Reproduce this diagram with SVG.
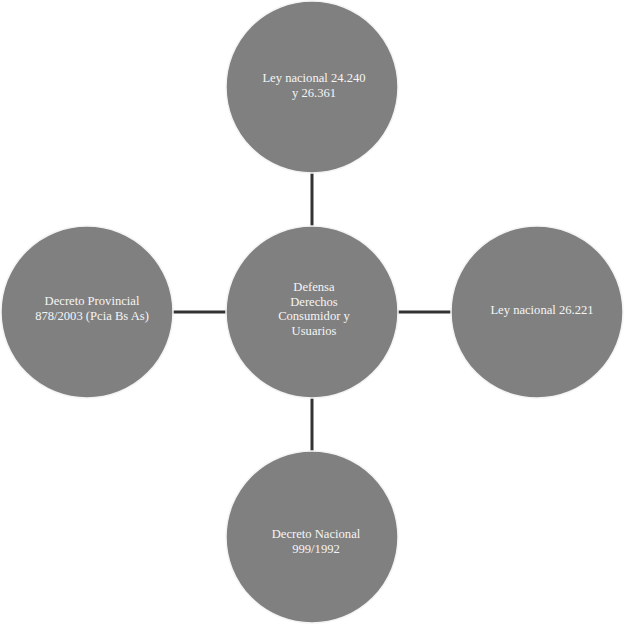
<svg xmlns="http://www.w3.org/2000/svg" width="624" height="624" viewBox="0 0 624 624">
<style>
.node{fill:#808080;stroke:#f4f4f4;stroke-width:1.5}
.lbl{font-family:"Liberation Serif","DejaVu Serif",serif;font-size:12.6px;fill:#f5f5f5;text-anchor:middle}
.conn{stroke:#333333;stroke-width:3;fill:none}
</style>
<rect width="624" height="624" fill="#ffffff"/>
<g id="connectors">
<line class="conn" x1="312" y1="173" x2="312" y2="226"/>
<line class="conn" x1="312" y1="398" x2="312" y2="451"/>
<line class="conn" x1="173" y1="312" x2="226" y2="312"/>
<line class="conn" x1="398" y1="312" x2="451" y2="312"/>
</g>
<g id="center">
<circle class="node" cx="312" cy="312" r="86"/>
<text class="lbl" x="314" y="291">Defensa</text>
<text class="lbl" x="314" y="305.5">Derechos</text>
<text class="lbl" x="314" y="320">Consumidor y</text>
<text class="lbl" x="314" y="334.5">Usuarios</text>
</g>
<g id="top">
<circle class="node" cx="312" cy="87" r="86"/>
<text class="lbl" x="314" y="82">Ley nacional 24.240</text>
<text class="lbl" x="314" y="96.5">y 26.361</text>
</g>
<g id="left">
<circle class="node" cx="87" cy="312" r="86"/>
<text class="lbl" x="92" y="305">Decreto Provincial</text>
<text class="lbl" x="92" y="319.5">878/2003 (Pcia Bs As)</text>
</g>
<g id="right">
<circle class="node" cx="537" cy="312" r="86"/>
<text class="lbl" x="542" y="314">Ley nacional 26.221</text>
</g>
<g id="bottom">
<circle class="node" cx="312" cy="537" r="86"/>
<text class="lbl" x="316" y="538">Decreto Nacional</text>
<text class="lbl" x="316" y="552.5">999/1992</text>
</g>
</svg>
